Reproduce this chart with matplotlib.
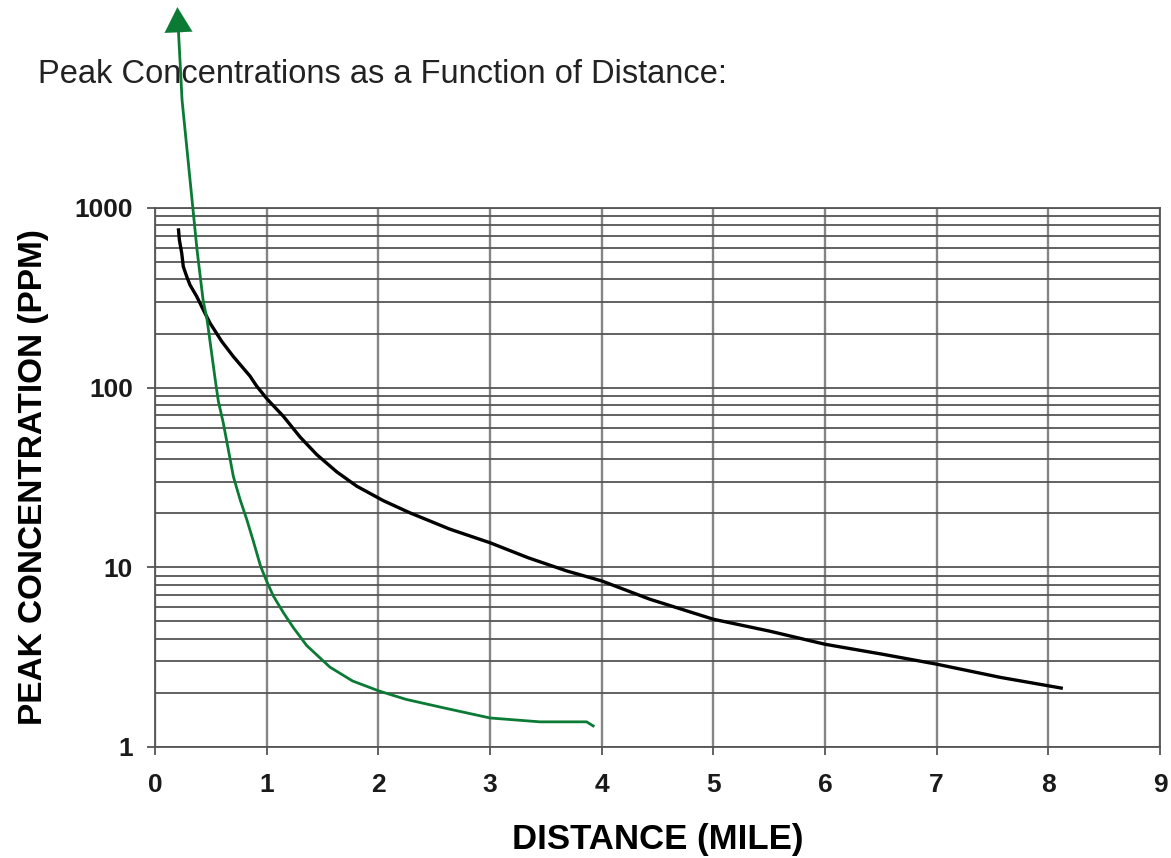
import numpy as np
import matplotlib
matplotlib.use("Agg")
import matplotlib.pyplot as plt
from matplotlib.ticker import LogLocator, NullFormatter, FixedLocator

plt.rcParams['font.family'] = ['Liberation Sans', 'DejaVu Sans']

# peak concentration curve (black)
dist_mile = [0.209, 0.218, 0.239, 0.253, 0.284, 0.313, 0.373, 0.432, 0.492,
             0.597, 0.701, 0.850, 0.910, 1.0, 1.030, 1.149, 1.298, 1.448,
             1.627, 1.806, 2.044, 2.283, 2.641, 3.0, 3.342, 3.686, 4.0,
             4.432, 5.0, 5.506, 6.0, 6.506, 7.0, 7.57, 8.13]
peak_ppm = [771, 664, 560, 472, 415, 373, 322, 271, 229,
            181, 149, 116, 102, 87, 83, 69.3, 53.2, 42.4,
            34.0, 28.3, 23.5, 20.1, 16.3, 13.7, 11.3, 9.55, 8.4,
            6.64, 5.14, 4.41, 3.73, 3.29, 2.89, 2.44, 2.12]

# hand drawn green annotation line (runs out of the top of the chart)
green_x = [0.210, 0.242, 0.376, 0.430, 0.466, 0.539, 0.567, 0.611, 0.656,
           0.701, 0.761, 0.821, 0.880, 0.946, 1.0, 1.059, 1.149, 1.238,
           1.358, 1.567, 1.769, 2.005, 2.249, 2.587, 3.0, 3.447, 3.865, 3.924]
green_y = [9570, 3980, 585, 308, 239, 110.8, 84, 63.7, 45.3,
           32.1, 23.9, 18.5, 14.0, 10.1, 8.36, 6.93, 5.6, 4.62,
           3.67, 2.78, 2.33, 2.05, 1.84, 1.65, 1.45, 1.38, 1.38, 1.31]
arrow_tip = (0.20, 13120)

x_ticks = list(range(10))
y_ticks = [1, 10, 100, 1000]
y_tick_labels = ['1', '10', '100', '1000']

grid_col = '#555555'
green = '#0b7a35'

fig = plt.figure(figsize=(11.71, 8.58), dpi=100)
ax = fig.add_axes([0.1324, 0.1294, 0.8582, 0.6282])

ax.set_yscale('log')
ax.set_xlim(0, 9)
ax.set_ylim(1, 1000)

ax.xaxis.set_major_locator(FixedLocator(x_ticks))
ax.yaxis.set_major_locator(FixedLocator(y_ticks))
ax.yaxis.set_minor_locator(LogLocator(base=10, subs=np.arange(2, 10)))
ax.yaxis.set_minor_formatter(NullFormatter())
ax.set_yticklabels(y_tick_labels)

ax.grid(True, axis='y', which='both', color=grid_col, lw=1.3)
ax.grid(True, axis='x', which='major', color='#858585', lw=1.7)
for s in ax.spines.values():
    s.set_color(grid_col)
    s.set_linewidth(1.3)

ax.tick_params(axis='both', which='major', direction='out', length=6,
               width=1.3, color=grid_col, labelsize=19, pad=10)
ax.tick_params(axis='x', which='major', pad=13)
ax.tick_params(axis='y', which='minor', length=0)
for lab in ax.get_xticklabels() + ax.get_yticklabels():
    lab.set_fontweight('bold')
    lab.set_color('#1a1a1a')

ax.plot(dist_mile, peak_ppm, color='black', lw=2.4, solid_capstyle='butt',
        solid_joinstyle='round', zorder=3)

ax.plot(green_x, green_y, color=green, lw=2.0, clip_on=False,
        solid_joinstyle='round', zorder=4)
ax.annotate('', xy=arrow_tip, xytext=(green_x[0], green_y[0]),
            arrowprops=dict(arrowstyle='-|>,head_length=0.45,head_width=0.25',
                            color=green, lw=0.1, mutation_scale=40,
                            shrinkA=0, shrinkB=0),
            annotation_clip=False, zorder=5)

ax.set_xlabel('DISTANCE (MILE)', fontsize=25, fontweight='bold', va='center')
ax.xaxis.set_label_coords(0.5, -0.1725)
ax.set_ylabel('PEAK CONCENTRATION (PPM)', fontsize=24, fontweight='bold', va='center')
ax.yaxis.set_label_coords(-0.1214, 0.5)

fig.text(0.0325, 0.913, 'Peak Concentrations as a Function of Distance:',
         fontsize=23.5, color='#222222', ha='left', va='center')

fig.savefig('out.png', dpi=100)
